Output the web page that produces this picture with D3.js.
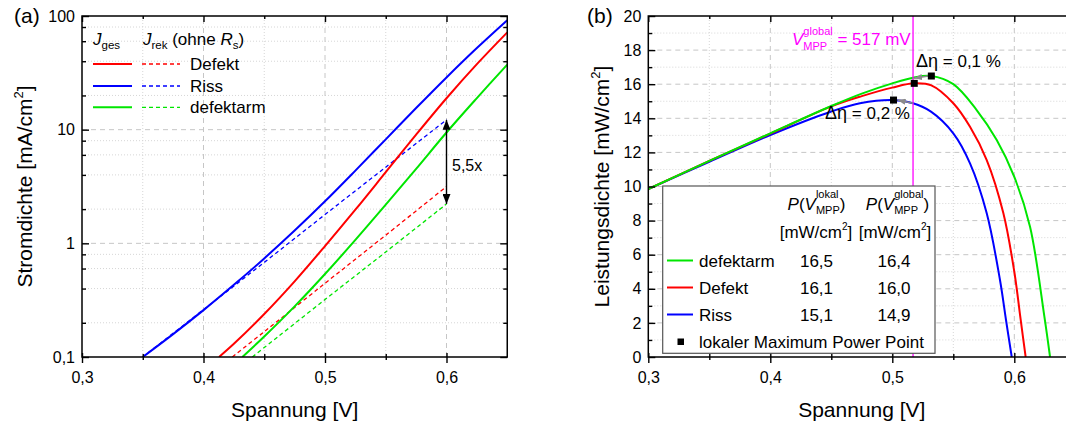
<!DOCTYPE html>
<html><head><meta charset="utf-8">
<script src="https://cdn.jsdelivr.net/npm/d3@7"></script>
<style>
body{margin:0;background:#fff}
text{font-family:"Liberation Sans",Arial,Helvetica,sans-serif;white-space:pre}
</style>
</head><body>
<svg id="c" width="1066" height="428"></svg>
<script>
// ---------------- DATA ----------------
const voltTicks = [0.3, 0.4, 0.5, 0.6];
const voltTickLabels = ["0,3", "0,4", "0,5", "0,6"];
const voltMinor = [0.35, 0.45, 0.55];
const currentTicks = [0.1, 1, 10, 100];
const currentTickLabels = ["0,1", "1", "10", "100"];
const powerTicks = [0, 2, 4, 6, 8, 10, 12, 14, 16, 18, 20];
const powerMinor = [1, 3, 5, 7, 9, 11, 13, 15, 17, 19];

// (a) current density [V, mA/cm2]
const jgesRiss = [[0.35,0.1],[0.375,0.159],[0.40,0.2585],[0.425,0.4315],[0.45,0.737],[0.475,1.296],[0.50,2.344],[0.525,4.365],[0.55,8.22],[0.575,15.49],[0.60,28.8],[0.625,52.2],[0.65,91.7]];
const jrekRiss = [[0.35,0.1],[0.40,0.261],[0.45,0.68],[0.50,1.79],[0.55,4.68],[0.60,12.2]];
const jgesDefekt = [[0.4128,0.1],[0.425,0.1306],[0.45,0.239],[0.475,0.4634],[0.50,0.946],[0.525,1.977],[0.55,4.227],[0.575,9.04],[0.60,18.9],[0.625,37.7],[0.65,71.8]];
const jrekDefekt = [[0.4237,0.1],[0.45,0.167],[0.50,0.445],[0.55,1.18],[0.60,3.16]];
const jgesDefektarm = [[0.432,0.1],[0.45,0.1514],[0.475,0.2786],[0.50,0.537],[0.525,1.072],[0.55,2.188],[0.575,4.519],[0.60,9.44],[0.625,18.95],[0.65,37.4]];
const jrekDefektarm = [[0.4402,0.1],[0.45,0.121],[0.50,0.32],[0.55,0.84],[0.60,2.22]];
const ratioLabel = "5,5x";

// (b) power density [V, mW/cm2]
const pDefektarm = [[0.30,9.85],[0.35,11.5],[0.40,13.12],[0.45,14.72],[0.475,15.45],[0.50,16.05],[0.517,16.38],[0.532,16.48],[0.55,16.0],[0.569,14.5],[0.5856,12.73],[0.60,10.57],[0.6129,7.64],[0.6246,2.4],[0.6293,0]];
const pDefekt = [[0.30,9.85],[0.35,11.5],[0.40,13.1],[0.45,14.7],[0.475,15.3],[0.50,15.8],[0.518,16.05],[0.532,15.93],[0.55,14.88],[0.5637,13.5],[0.5774,11.55],[0.591,8.44],[0.60,5.0],[0.6052,2.2],[0.6093,0]];
const pRiss = [[0.30,9.85],[0.35,11.45],[0.40,13.02],[0.45,14.4],[0.4735,14.88],[0.501,15.07],[0.517,14.88],[0.5317,14.39],[0.55,13.12],[0.5637,11.36],[0.5774,8.43],[0.5883,4.5],[0.5932,2.17],[0.5979,0]];
const vGlobal = 0.517;
const vGlobalLabel = "517 mV";
const seriesNames = ["defektarm", "Defekt", "Riss"];
const seriesColors = ["#00e600", "#ff0000", "#0000ff"];
const mppV = [0.532, 0.518, 0.501];
const mppP = [16.48, 16.05, 15.07];
const globalP = [16.38, 16.0, 14.88];
const pLokal = ["16,5", "16,1", "15,1"];
const pGlobal = ["16,4", "16,0", "14,9"];
const deltaEta = ["0,1 %", "0,2 %"];

// ---------------- HELPERS ----------------
const svg = d3.select("#c");
svg.append("rect").attr("width", 1066).attr("height", 428).attr("fill", "#fff");
const SERIF = '"Liberation Serif","Times New Roman",serif';

function rich(parent, x, y, parts, opt = {}) {
  const fs = opt.fs || 17, fill = opt.fill || "#000", anchor = opt.anchor || "start";
  const g = parent.append("g");
  let cx = 0;
  parts.forEach(p => {
    if (p.sup !== undefined || p.sub !== undefined) {
      let w = 0;
      const sfs = p.sfs || 11;
      if (p.sup) {
        const t = g.append("text").attr("x", cx).attr("y", p.supDy ?? -11).attr("font-size", sfs).attr("fill", fill).text(p.sup);
        w = Math.max(w, t.node().getComputedTextLength());
      }
      if (p.sub) {
        const t = g.append("text").attr("x", cx).attr("y", p.subDy ?? 4).attr("font-size", sfs).attr("fill", fill).text(p.sub);
        w = Math.max(w, t.node().getComputedTextLength());
      }
      cx += w + (p.gap || 0);
    } else {
      const t = g.append("text").attr("x", cx).attr("y", p.dy || 0)
        .attr("font-size", p.fs || fs).attr("fill", fill)
        .attr("font-style", p.it ? "italic" : null)
        .attr("font-family", p.ff || null).text(p.t);
      cx += t.node().getComputedTextLength();
    }
  });
  const sh = anchor === "middle" ? -cx / 2 : anchor === "end" ? -cx : 0;
  g.attr("transform", `translate(${x + sh},${y})`);
  return g;
}

function grid(g, xs, ys, xMaj, xMin, yMaj, yMin, x0, x1, y0, y1) {
  const major = {stroke: "#c6c6c6", "stroke-width": 1, "stroke-dasharray": "5,4"};
  const minor = {stroke: "#d6d6d6", "stroke-width": 1, "stroke-dasharray": "1,2"};
  function draw(vals, style, vertical) {
    vals.forEach(v => {
      const l = g.append("line");
      if (vertical) l.attr("x1", xs(v)).attr("x2", xs(v)).attr("y1", y0).attr("y2", y1);
      else l.attr("y1", ys(v)).attr("y2", ys(v)).attr("x1", x0).attr("x2", x1);
      Object.entries(style).forEach(([k, val]) => l.attr(k, val));
    });
  }
  draw(yMin, minor, false); draw(xMin, minor, true);
  draw(yMaj, major, false); draw(xMaj, major, true);
}

function styleAxis(ax, fs) {
  ax.select(".domain").remove();
  ax.attr("font-family", null).attr("font-size", fs);
  ax.selectAll("line").attr("stroke", "#000").attr("stroke-width", 1.4);
  ax.selectAll("text").attr("fill", "#000");
}

function axes(g, xs, ys, xr, yr, opts) {
  const [X0, X1] = xr, [Y0, Y1] = yr;
  const b = g.append("g").attr("transform", `translate(0,${Y0})`)
    .call(d3.axisBottom(xs).tickValues(voltTicks).tickFormat((d, i) => voltTickLabels[i]).tickSize(6).tickPadding(8));
  styleAxis(b, 16);
  b.selectAll("line").attr("y1", -4);
  b.selectAll("text").attr("y", 14.5);
  const bm = g.append("g").attr("transform", `translate(0,${Y0})`)
    .call(d3.axisBottom(xs).tickValues(voltMinor).tickFormat("").tickSize(3));
  styleAxis(bm, 16); bm.selectAll("line").attr("y1", -3);
  const t = g.append("g").attr("transform", `translate(0,${Y1})`)
    .call(d3.axisTop(xs).tickValues(voltTicks).tickFormat("").tickSize(-6));
  styleAxis(t, 16);
  const tm = g.append("g").attr("transform", `translate(0,${Y1})`)
    .call(d3.axisTop(xs).tickValues(voltMinor).tickFormat("").tickSize(-3));
  styleAxis(tm, 16);
  const l = g.append("g").attr("transform", `translate(${X0},0)`)
    .call(d3.axisLeft(ys).tickValues(opts.yMaj).tickFormat((d, i) => opts.yLab[i]).tickSize(-7).tickPadding(7));
  styleAxis(l, 16);
  const lm = g.append("g").attr("transform", `translate(${X0},0)`)
    .call(d3.axisLeft(ys).tickValues(opts.yMin).tickFormat("").tickSize(-4));
  styleAxis(lm, 16);
  if (X1 < 1066) {
    const r = g.append("g").attr("transform", `translate(${X1},0)`)
      .call(d3.axisRight(ys).tickValues(opts.yMaj).tickFormat("").tickSize(-7));
    styleAxis(r, 16);
    const rm = g.append("g").attr("transform", `translate(${X1},0)`)
      .call(d3.axisRight(ys).tickValues(opts.yMin).tickFormat("").tickSize(-4));
    styleAxis(rm, 16);
  }
  g.append("rect").attr("x", X0).attr("y", Y1).attr("width", X1 - X0).attr("height", Y0 - Y1)
    .attr("fill", "none").attr("stroke", "#000").attr("stroke-width", 1.5);
}

const defs = svg.append("defs");
defs.append("marker").attr("id", "ah").attr("viewBox", "0 0 10 8").attr("refX", 10).attr("refY", 4)
  .attr("markerWidth", 10).attr("markerHeight", 8).attr("markerUnits", "userSpaceOnUse").attr("orient", "auto-start-reverse")
  .append("path").attr("d", "M0,0 L10,4 L0,8 Z").attr("fill", "#000");
defs.append("marker").attr("id", "gh").attr("viewBox", "0 0 8 6").attr("refX", 8).attr("refY", 3)
  .attr("markerWidth", 8).attr("markerHeight", 6).attr("markerUnits", "userSpaceOnUse").attr("orient", "auto")
  .append("path").attr("d", "M0,0 L8,3 L0,6 Z").attr("fill", "#8a8a8a");

const smooth = d3.curveCatmullRom.alpha(0.5);

// ---------------- PANEL (a) ----------------
const xL = d3.scaleLinear().domain([0.3, 0.65]).range([82, 507.25]);
const yL = d3.scaleLog().domain([0.1, 100]).range([357, 16]);
const gA = svg.append("g");
const minorL = [];
[0.1, 1, 10].forEach(dec => [2, 4, 6, 8].forEach(m => minorL.push(dec * m)));
grid(gA, xL, yL, [0.4, 0.5, 0.6], voltMinor, [1, 10], minorL, 82, 507.25, 357, 16);

defs.append("clipPath").attr("id", "clipA").append("rect").attr("x", 82).attr("y", 16).attr("width", 425.25).attr("height", 341);
const lineL = d3.line().x(d => xL(d[0])).y(d => yL(d[1])).curve(smooth);
const cA = gA.append("g").attr("clip-path", "url(#clipA)");
const aSeries = [
  {ges: jgesDefekt, rek: jrekDefekt, col: seriesColors[1], name: "Defekt"},
  {ges: jgesRiss, rek: jrekRiss, col: seriesColors[2], name: "Riss"},
  {ges: jgesDefektarm, rek: jrekDefektarm, col: seriesColors[0], name: "defektarm"}
];
aSeries.forEach(s => {
  cA.append("path").attr("d", lineL(s.rek)).attr("fill", "none").attr("stroke", s.col)
    .attr("stroke-width", 1.3).attr("stroke-dasharray", "4,3");
});
aSeries.forEach(s => {
  cA.append("path").attr("d", lineL(s.ges)).attr("fill", "none").attr("stroke", s.col).attr("stroke-width", 2);
});
const vArrow = jrekRiss[jrekRiss.length - 1][0];
gA.append("line").attr("x1", xL(vArrow)).attr("x2", xL(vArrow))
  .attr("y1", yL(jrekRiss[jrekRiss.length - 1][1])).attr("y2", yL(jrekDefektarm[jrekDefektarm.length - 1][1]))
  .attr("stroke", "#000").attr("stroke-width", 1.4)
  .attr("marker-start", "url(#ah)").attr("marker-end", "url(#ah)");
gA.append("text").attr("x", 452).attr("y", 171).attr("font-size", 16).text(ratioLabel);

axes(gA, xL, yL, [82, 507.25], [357, 16], {yMaj: currentTicks, yLab: currentTickLabels, yMin: minorL});

rich(gA, 93, 45, [{t: "J", it: true}, {t: "ges", fs: 11.5, dy: 4}]);
rich(gA, 143, 45, [{t: "J", it: true}, {t: "rek", fs: 11.5, dy: 4}, {t: " (ohne "}, {t: "R", it: true}, {t: "s", fs: 11.5, dy: 4}, {t: ")"}]);
aSeries.forEach((s, i) => {
  const yy = [64, 86, 107.3][i];
  gA.append("line").attr("x1", 93).attr("x2", 132).attr("y1", yy).attr("y2", yy).attr("stroke", s.col).attr("stroke-width", 2);
  gA.append("line").attr("x1", 142).attr("x2", 180).attr("y1", yy).attr("y2", yy).attr("stroke", s.col).attr("stroke-width", 1.3).attr("stroke-dasharray", "4,3");
  gA.append("text").attr("x", 190).attr("y", yy + 6).attr("font-size", 17).text(s.name);
});

svg.append("text").attr("x", 14).attr("y", 23).attr("font-size", 21).text("(a)");
rich(svg, 294.6, 417, [{t: "Spannung [V]"}], {fs: 21, anchor: "middle"});
rich(svg.append("g").attr("transform", "translate(32,186.5) rotate(-90)"), 0, 0,
  [{t: "Stromdichte [mA/cm"}, {t: "2", fs: 13, dy: -9}, {t: "]"}], {fs: 21, anchor: "middle"});

// ---------------- PANEL (b) ----------------
const xR = d3.scaleLinear().domain([0.3, 0.65]).range([648.3, 1075.3]);
const yR = d3.scaleLinear().domain([0, 20]).range([357, 16]);
const gB = svg.append("g");
grid(gB, xR, yR, [0.4, 0.5, 0.6], voltMinor, powerTicks.slice(1, -1), powerMinor, 648.3, 1075.3, 357, 16);
defs.append("clipPath").attr("id", "clipB").append("rect").attr("x", 648.3).attr("y", 16).attr("width", 427).attr("height", 341);
const lineR = d3.line().x(d => xR(d[0])).y(d => yR(d[1])).curve(smooth);
const cB = gB.append("g").attr("clip-path", "url(#clipB)");
const bSeries = [pDefektarm, pDefekt, pRiss];
[2, 1, 0].forEach(i => {
  cB.append("path").attr("d", lineR(bSeries[i])).attr("fill", "none").attr("stroke", seriesColors[i]).attr("stroke-width", 2);
});
gB.append("line").attr("x1", xR(vGlobal)).attr("x2", xR(vGlobal)).attr("y1", 16).attr("y2", 357)
  .attr("stroke", "#ff00ff").attr("stroke-width", 1.3);
gB.append("line").attr("x1", xR(mppV[0]) - 3).attr("y1", yR(mppP[0])).attr("x2", xR(vGlobal) + 1).attr("y2", yR(globalP[0]) + 0.5)
  .attr("stroke", "#8a8a8a").attr("stroke-width", 1.6).attr("marker-end", "url(#gh)");
gB.append("line").attr("x1", xR(vGlobal)).attr("y1", yR(globalP[2])).attr("x2", xR(mppV[2]) + 4).attr("y2", yR(mppP[2]))
  .attr("stroke", "#8a8a8a").attr("stroke-width", 1.6).attr("marker-end", "url(#gh)");
mppV.forEach((v, i) => {
  gB.append("rect").attr("x", xR(v) - 3.5).attr("y", yR(mppP[i]) - 3.5).attr("width", 7).attr("height", 7).attr("fill", "#000");
});
rich(gB, 792, 45, [{t: "V", it: true}, {sup: "global", sub: "MPP", supDy: -10, subDy: 5, sfs: 11}, {t: " = " + vGlobalLabel}], {fill: "#ff00ff", fs: 17});
rich(gB, 916, 67, [{t: "\u0394\u03b7", ff: SERIF, fs: 18}, {t: " = " + deltaEta[0]}], {fs: 17});
rich(gB, 910, 119, [{t: "\u0394\u03b7", ff: SERIF, fs: 18}, {t: " = " + deltaEta[1]}], {fs: 17, anchor: "end"});

axes(gB, xR, yR, [648.3, 1075.3], [357, 16], {yMaj: powerTicks, yLab: powerTicks.map(String), yMin: powerMinor});

const lg = gB.append("g");
lg.append("rect").attr("x", 662.7).attr("y", 186).attr("width", 272.3).attr("height", 167.3)
  .attr("fill", "#fff").attr("stroke", "#555").attr("stroke-width", 1.2);
rich(lg, 816.5, 210, [{t: "P", it: true}, {t: "("}, {t: "V", it: true}, {sup: "lokal", sub: "MPP", supDy: -12, subDy: 4}, {t: ")"}], {anchor: "middle"});
rich(lg, 897.5, 210, [{t: "P", it: true}, {t: "("}, {t: "V", it: true}, {sup: "global", sub: "MPP", supDy: -12, subDy: 4}, {t: ")"}], {anchor: "middle"});
rich(lg, 816, 238, [{t: "[mW/cm"}, {t: "2", fs: 10, dy: -8}, {t: "]"}], {anchor: "middle"});
rich(lg, 895, 238, [{t: "[mW/cm"}, {t: "2", fs: 10, dy: -8}, {t: "]"}], {anchor: "middle"});
seriesNames.forEach((n, i) => {
  const yy = 260.5 + 27 * i;
  lg.append("line").attr("x1", 667).attr("x2", 693).attr("y1", yy).attr("y2", yy).attr("stroke", seriesColors[i]).attr("stroke-width", 2);
  lg.append("text").attr("x", 699).attr("y", yy + 6.5).attr("font-size", 17).text(n);
  lg.append("text").attr("x", 816.5).attr("y", yy + 6.5).attr("font-size", 17).attr("text-anchor", "middle").text(pLokal[i]);
  lg.append("text").attr("x", 894).attr("y", yy + 6.5).attr("font-size", 17).attr("text-anchor", "middle").text(pGlobal[i]);
});
lg.append("rect").attr("x", 677.5).attr("y", 338.5).attr("width", 6.5).attr("height", 6.5).attr("fill", "#000");
lg.append("text").attr("x", 699).attr("y", 348).attr("font-size", 17).text("lokaler Maximum Power Point");

svg.append("text").attr("x", 587).attr("y", 23).attr("font-size", 21).text("(b)");
rich(svg, 861.8, 417, [{t: "Spannung [V]"}], {fs: 21, anchor: "middle"});
rich(svg.append("g").attr("transform", "translate(609,186.5) rotate(-90)"), 0, 0,
  [{t: "Leistungsdichte [mW/cm"}, {t: "2", fs: 13, dy: -9}, {t: "]"}], {fs: 21, anchor: "middle"});
</script>
</body></html>
